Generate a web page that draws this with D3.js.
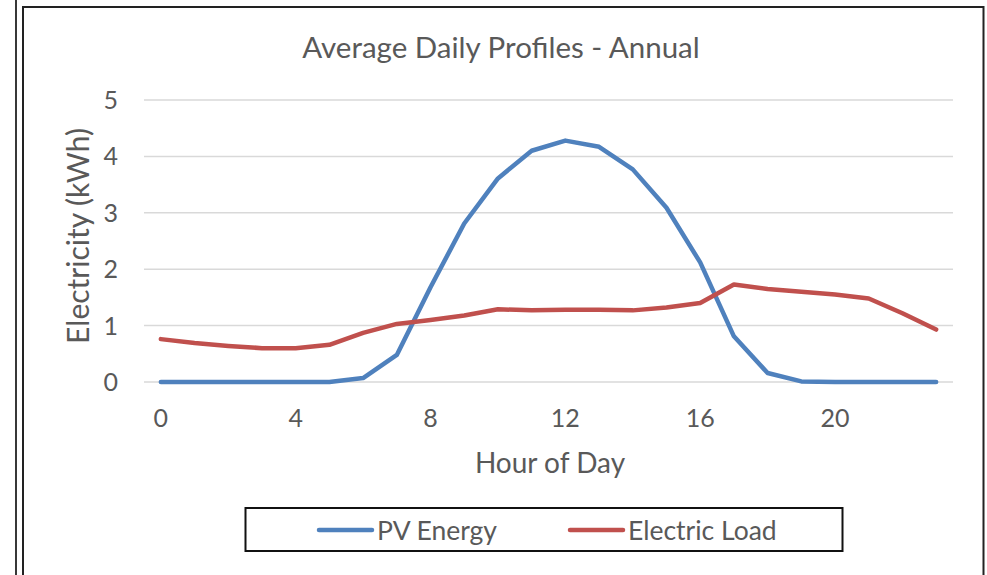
<!DOCTYPE html>
<html>
<head>
<meta charset="utf-8">
<script src="https://cdn.jsdelivr.net/npm/d3@7"></script>
<style>
  body { margin: 0; background: #fff; }
  svg { display: block; font-family: Lato, "Open Sans", sans-serif; }
  .grid line { stroke: #d9d9d9; stroke-width: 1.5; }
  .tick-label { fill: #595959; font-size: 25px; }
  .ttl { fill: #595959; }
</style>
</head>
<body>
<svg></svg>
<script>
// hourly averages
var hours = d3.range(24);
var pvEnergy = [0, 0, 0, 0, 0, 0, 0.07, 0.48, 1.68, 2.81, 3.61, 4.10,
                4.28, 4.17, 3.77, 3.09, 2.12, 0.81, 0.16, 0.01, 0, 0, 0, 0];
var electricLoad = [0.76, 0.69, 0.64, 0.60, 0.60, 0.66, 0.87, 1.03, 1.10, 1.18, 1.29, 1.27,
                    1.28, 1.28, 1.27, 1.32, 1.40, 1.73, 1.65, 1.60, 1.55, 1.48, 1.22, 0.93];
var yTicks = [0, 1, 2, 3, 4, 5];
var xTickHours = [0, 4, 8, 12, 16, 20];
var seriesNames = ["PV Energy", "Electric Load"];
var seriesColors = ["#4f81bd", "#c0504d"];

var width = 987, height = 575;

var svg = d3.select("svg")
    .attr("width", width)
    .attr("height", height);

// frame lines (double rule on the left, chart border)
svg.append("line")
    .attr("x1", 16).attr("x2", 16).attr("y1", 0).attr("y2", height)
    .attr("stroke", "#222").attr("stroke-width", 1.8);
svg.append("path")
    .attr("d", "M23," + height + "V7H983.5V" + height)
    .attr("fill", "none").attr("stroke", "#222").attr("stroke-width", 2);

var x = d3.scalePoint()
    .domain(hours)
    .range([144, 953])
    .padding(0.5);

var y = d3.scaleLinear()
    .domain([0, 5])
    .range([382, 100]);

// gridlines
svg.append("g").attr("class", "grid")
  .selectAll("line")
  .data(yTicks)
  .enter().append("line")
    .attr("x1", 144).attr("x2", 953)
    .attr("y1", function(d) { return y(d); })
    .attr("y2", function(d) { return y(d); });

// y tick labels
svg.append("g")
  .selectAll("text")
  .data(yTicks)
  .enter().append("text")
    .attr("class", "tick-label")
    .attr("x", 118)
    .attr("y", function(d) { return y(d); })
    .attr("dy", "0.36em")
    .attr("text-anchor", "end")
    .text(function(d) { return d; });

// x tick labels
svg.append("g")
  .selectAll("text")
  .data(xTickHours)
  .enter().append("text")
    .attr("class", "tick-label")
    .attr("x", function(d) { return x(d); })
    .attr("y", 418)
    .attr("dy", "0.36em")
    .attr("text-anchor", "middle")
    .text(function(d) { return d; });

// series lines
var line = d3.line()
    .x(function(d, i) { return x(hours[i]); })
    .y(function(d) { return y(d); });

[pvEnergy, electricLoad].forEach(function(vals, i) {
  svg.append("path")
      .attr("d", line(vals))
      .attr("fill", "none")
      .attr("stroke", seriesColors[i])
      .attr("stroke-width", 4.5)
      .attr("stroke-linejoin", "round")
      .attr("stroke-linecap", "round");
});

// titles
svg.append("text")
    .attr("class", "ttl")
    .attr("x", 501).attr("y", 47)
    .attr("dy", "0.36em")
    .attr("text-anchor", "middle")
    .style("font-size", "29.5px")
    .text("Average Daily Profiles - Annual");

svg.append("text")
    .attr("class", "ttl")
    .attr("x", 550).attr("y", 463)
    .attr("dy", "0.36em")
    .attr("text-anchor", "middle")
    .style("font-size", "28px")
    .text("Hour of Day");

svg.append("text")
    .attr("class", "ttl")
    .attr("transform", "translate(78,236) rotate(-90)")
    .attr("dy", "0.36em")
    .attr("text-anchor", "middle")
    .style("font-size", "30px")
    .text("Electricity (kWh)");

// legend
var legend = svg.append("g");
legend.append("rect")
    .attr("x", 245.5).attr("y", 508)
    .attr("width", 597).attr("height", 43)
    .attr("fill", "#fff").attr("stroke", "#111").attr("stroke-width", 2);

var legendX = [318, 569];
seriesNames.forEach(function(name, i) {
  var lg = legend.append("g").attr("transform", "translate(" + legendX[i] + ",530)");
  lg.append("line")
      .attr("x1", 1).attr("x2", 54)
      .attr("stroke", seriesColors[i]).attr("stroke-width", 4.5)
      .attr("stroke-linecap", "round");
  lg.append("text")
      .attr("class", "ttl")
      .attr("x", 59)
      .attr("dy", "0.36em")
      .style("font-size", "26.5px")
      .text(name);
});
</script>
</body>
</html>
